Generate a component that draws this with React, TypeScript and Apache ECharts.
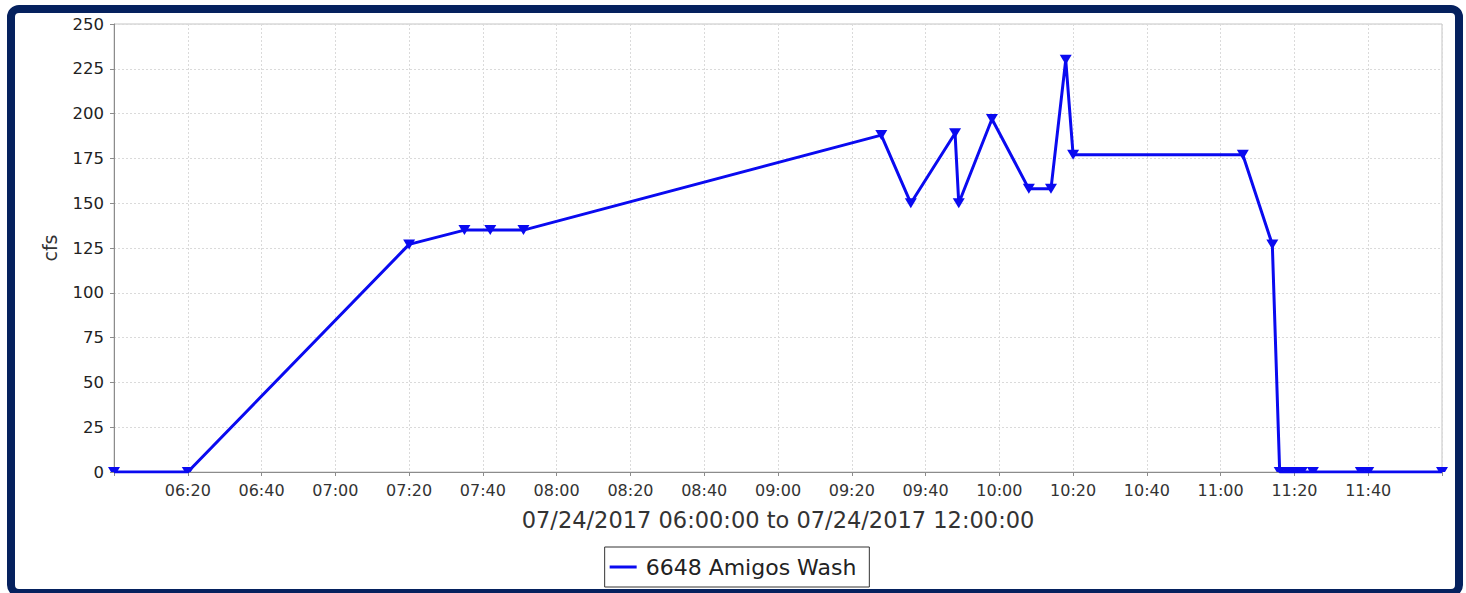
import React, { useEffect, useRef } from "react";
import * as echarts from "echarts";

const times = [
  "06:00", "06:20", "07:20", "07:35", "07:42", "07:51", "09:28", "09:36", "09:48", "09:49",
  "09:58", "10:08", "10:14", "10:18", "10:20", "11:06", "11:14", "11:16", "11:18", "11:20",
  "11:22", "11:25", "11:38", "11:40", "12:00",
];
const flows = [
  0, 0, 127, 135, 135, 135, 188, 150, 189, 150,
  197, 158, 158, 230, 177, 177, 127, 0, 0, 0,
  0, 0, 0, 0, 0,
];
const seriesName = "6648 Amigos Wash";
const axisTitle = "07/24/2017 06:00:00 to 07/24/2017 12:00:00";
const yTitle = "cfs";
const startTime = "06:00";
const endTime = "12:00";

const toMin = (s: string) => {
  const [h, m] = s.split(":").map(Number);
  return h * 60 + m;
};
const pad = (n: number) => (n < 10 ? "0" + n : "" + n);

export default function App() {
  const ref = useRef<HTMLDivElement>(null);
  useEffect(() => {
    if (!ref.current) return;
    const chart = echarts.init(ref.current, undefined, { renderer: "svg" });
    const t0 = toMin(startTime);
    const t1 = toMin(endTime);
    const tri = "path://M0,0 L10,0 L5,9 Z";
    const halfTri = "path://M0,0 L10,0 L7.5,4.5 L2.5,4.5 Z";
    const data = times.map((t, i) => {
      const v = flows[i];
      if (v === 0) {
        return { value: [toMin(t) - t0, v], symbol: halfTri, symbolSize: [12, 5], symbolOffset: [0, -2.5] };
      }
      return { value: [toMin(t) - t0, v], symbol: tri, symbolSize: [12, 10] };
    });
    const blue = "#0a0af0";
    chart.setOption({
      animation: false,
      backgroundColor: "#ffffff",
      textStyle: { fontFamily: "DejaVu Sans" },
      graphic: [
        {
          type: "rect",
          shape: { x: 11, y: 9, width: 1448, height: 584, r: 8 },
          style: { fill: "none", stroke: "#05215e", lineWidth: 8 },
          z: 100,
        },
      ],
      grid: {
        left: 114,
        right: 24,
        top: 24,
        bottom: 121,
        show: true,
        borderColor: "#c4c4c4",
        borderWidth: 1,
        backgroundColor: "#ffffff",
      },
      legend: {
        left: "center",
        top: 547,
        data: [seriesName],
        icon: "rect",
        itemWidth: 27,
        itemHeight: 3,
        itemGap: 8,
        borderColor: "#333",
        borderWidth: 1,
        borderRadius: 0,
        backgroundColor: "#fff",
        padding: [9, 13, 9, 5],
        textStyle: { fontSize: 22, color: "#222", fontFamily: "DejaVu Sans", padding: [0, 0, 0, 4] },
      },
      xAxis: {
        type: "value",
        min: 0,
        max: t1 - t0,
        interval: 20,
        name: axisTitle,
        nameLocation: "middle",
        nameGap: 36,
        nameTextStyle: { fontSize: 22.5, color: "#333", fontFamily: "DejaVu Sans" },
        axisLine: { show: true, lineStyle: { color: "#8c8c8c", width: 1 } },
        axisTick: { show: true, length: 4, lineStyle: { color: "#8c8c8c" } },
        axisLabel: {
          fontSize: 16,
          color: "#333",
          margin: 10,
          fontFamily: "DejaVu Sans",
          formatter: (v: number) => {
            if (v <= 0 || v >= t1 - t0) return "";
            const m = t0 + v;
            return pad(Math.floor(m / 60)) + ":" + pad(m % 60);
          },
        },
        splitLine: { show: true, lineStyle: { color: "#dadada", type: [2, 2], width: 1 } },
      },
      yAxis: {
        type: "value",
        min: 0,
        max: 250,
        interval: 25,
        name: yTitle,
        nameLocation: "middle",
        nameGap: 55,
        nameRotate: 90,
        nameTextStyle: { fontSize: 19, color: "#333", fontFamily: "DejaVu Sans" },
        axisLine: { show: true, lineStyle: { color: "#8c8c8c", width: 1 } },
        axisTick: { show: true, length: 4, lineStyle: { color: "#8c8c8c" } },
        axisLabel: { fontSize: 16.5, color: "#222", margin: 10, fontFamily: "DejaVu Sans" },
        splitLine: { show: true, lineStyle: { color: "#dadada", type: [2, 2], width: 1 } },
      },
      series: [
        {
          name: seriesName,
          type: "line",
          data,
          clip: true,
          lineStyle: { color: blue, width: 3 },
          itemStyle: { color: blue },
          showAllSymbol: true,
        },
      ],
    });
    return () => chart.dispose();
  }, []);
  return (
    <div
      ref={ref}
      style={{ position: "absolute", left: 0, top: 0, width: 1466, height: 593, background: "#fff" }}
    />
  );
}
